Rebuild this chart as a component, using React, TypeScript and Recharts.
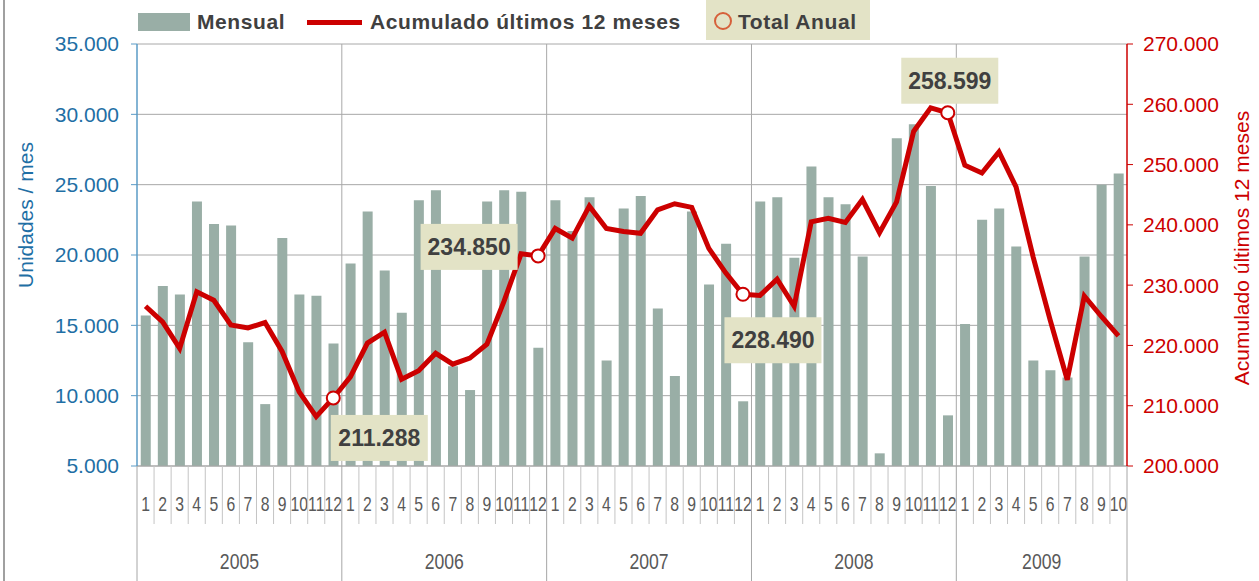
import React from 'react';
import { ComposedChart, Bar, Line, XAxis, YAxis, CartesianGrid, Legend } from 'recharts';

const years = [2005, 2006, 2007, 2008, 2009];
const monthsPerYear = [12, 12, 12, 12, 10];

// unidades por mes
const mensual = [
  15700, 17800, 17200, 23800, 22200, 22100, 13800, 9400, 21200, 17200, 17100, 13700,
  19400, 23100, 18900, 15900, 23900, 24600, 12100, 10400, 23800, 24600, 24500, 13400,
  23900, 21700, 24100, 12500, 23300, 24200, 16200, 11400, 23100, 17900, 20800, 9600,
  23800, 24100, 19800, 26300, 24100, 23600, 19900, 5900, 28300, 29300, 24900, 8600,
  15100, 22500, 23300, 20600, 12500, 11800, 11300, 19900, 25000, 25800,
];

// acumulado ultimos 12 meses
const acumulado = [
  226500, 223900, 219500, 228900, 227500, 223400, 222900, 223800, 219000, 212300, 208200, 211288,
  214800, 220400, 222200, 214400, 215800, 218700, 216900, 217900, 220200, 227300, 235200, 234850,
  239400, 237800, 243100, 239400, 238900, 238600, 242500, 243500, 242900, 236100, 232000, 228490,
  228300, 231000, 226500, 240500, 241100, 240400, 244200, 238700, 243800, 255500, 259400, 258599,
  249900, 248600, 252100, 246300, 234700, 224200, 214300, 228200, 224800, 221600,
];

const totalAnual = [211288, 234850, 228490, 258599];

const leftTicks = [5000, 10000, 15000, 20000, 25000, 30000, 35000];
const rightTicks = [200000, 210000, 220000, 230000, 240000, 250000, 260000, 270000];

// where the box of each annual label sits, relative to its point
const annualLabelOffsets = [
  { dx: 46, dy: 40 },
  { dx: -69, dy: -9 },
  { dx: 30, dy: 46 },
  { dx: 2, dy: -32 },
];

type Row = {
  key: string;
  year: number;
  month: number;
  mensual: number;
  acumulado: number;
  anual: number | null;
  yearIdx: number;
};

const rows: Row[] = [];
let n = 0;
years.forEach((year, yi) => {
  for (let m = 1; m <= monthsPerYear[yi]; m++) {
    rows.push({
      key: `${year}-${m}`,
      year,
      month: m,
      mensual: mensual[n],
      acumulado: acumulado[n],
      anual: m === 12 ? totalAnual[yi] : null,
      yearIdx: yi,
    });
    n++;
  }
});

const W = 1259;
const H = 581;
const LEFT_W = 137;
const RIGHT_W = 132;
const XAXIS_H = 115;
const LEGEND_H = 40;
const PLOT_W = W - LEFT_W - RIGHT_W;

const SANS = "'Liberation Sans', Arial, sans-serif";
const BLUE = '#1f6fa5';
const BLUE_AXIS = '#5a9bc6';
const RED = '#cc0000';
const BAR = '#99aea6';
const GRID = '#a8a8a8';
const TEXT = '#404040';
const AXIS_TEXT = '#595959';
const BEIGE = '#e3e3c6';
const ORANGE = '#d6603a';

const fmt = (v: number) => String(v).replace(/\B(?=(\d{3})+(?!\d))/g, '.');

const MonthTick = (props: any) => {
  const { x, y, payload } = props;
  const i = rows.findIndex((r) => r.key === payload.value);
  if (i < 0) return <g />;
  const row = rows[i];
  const band = PLOT_W / rows.length;
  const left = x - band / 2;
  const yearX = left + (band * monthsPerYear[row.yearIdx]) / 2;
  return (
    <g>
      {/* narrow look of the original axis font */}
      <text
        transform={`translate(${x} ${y + 45}) scale(0.75 1)`}
        textAnchor="middle"
        fontSize={21}
        fill={AXIS_TEXT}
        fontFamily={SANS}
      >
        {row.month}
      </text>
      {row.month === 1 ? (
        <>
          <line x1={left} x2={left} y1={y} y2={y + XAXIS_H} stroke="#a6a6a6" />
          <text
            transform={`translate(${yearX} ${y + 103}) scale(0.8 1)`}
            textAnchor="middle"
            fontSize={22}
            fill={AXIS_TEXT}
            fontFamily={SANS}
          >
            {row.year}
          </text>
        </>
      ) : (
        <line x1={left} x2={left} y1={y} y2={y + 58} stroke="#c4c4c4" />
      )}
      {i === rows.length - 1 && (
        <line x1={x + band / 2} x2={x + band / 2} y1={y} y2={y + XAXIS_H} stroke="#a6a6a6" />
      )}
    </g>
  );
};

const renderAnnualDot = (props: any) => {
  const { cx, cy, index, value } = props;
  if (value == null || cy == null || Number.isNaN(cy)) return <g key={`d${index}`} />;
  return <circle key={`d${index}`} cx={cx} cy={cy} r={6.5} fill="#fff" stroke={RED} strokeWidth={2} />;
};

const renderAnnualLabel = (props: any) => {
  const { x, y, value, index } = props;
  if (value == null || y == null) return null;
  const row = rows[index];
  const off = annualLabelOffsets[row ? row.yearIdx : 0] || { dx: 0, dy: -30 };
  const bw = 97;
  const bh = 46;
  const cx = x + off.dx;
  const cy = y + off.dy;
  return (
    <g>
      <rect x={cx - bw / 2} y={cy - bh / 2} width={bw} height={bh} fill={BEIGE} />
      <text
        x={cx}
        y={cy + 8}
        textAnchor="middle"
        fontSize={23}
        fontWeight="bold"
        fill={TEXT}
        fontFamily={SANS}
      >
        {fmt(value)}
      </text>
    </g>
  );
};

const renderLegend = () => (
  <div
    style={{
      position: 'relative',
      width: W,
      height: LEGEND_H,
      fontFamily: SANS,
      fontWeight: 'bold',
      fontSize: 21,
      color: TEXT,
      letterSpacing: 0.6,
      whiteSpace: 'nowrap',
    }}
  >
    <div style={{ position: 'absolute', left: 138, top: 13, width: 52, height: 18, background: BAR }} />
    <span style={{ position: 'absolute', left: 197, top: 8, lineHeight: '28px' }}>Mensual</span>
    <div style={{ position: 'absolute', left: 307, top: 20, width: 55, height: 5, background: RED }} />
    <span style={{ position: 'absolute', left: 370, top: 8, lineHeight: '28px' }}>
      Acumulado últimos 12 meses
    </span>
    <div style={{ position: 'absolute', left: 706, top: 0, width: 164, height: 40, background: BEIGE }} />
    <div
      style={{
        position: 'absolute',
        left: 714,
        top: 12,
        width: 14,
        height: 14,
        border: `2px solid ${ORANGE}`,
        borderRadius: '50%',
      }}
    />
    <span style={{ position: 'absolute', left: 738, top: 8, lineHeight: '28px' }}>Total Anual</span>
  </div>
);

const leftTitle = (p: any) => {
  const vb = p && p.viewBox ? p.viewBox : { x: 0, y: 44, width: LEFT_W, height: 422 };
  const cx = vb.x + 25;
  const cy = vb.y + vb.height / 2 - 40;
  return (
    <text
      x={cx}
      y={cy}
      transform={`rotate(-90 ${cx} ${cy})`}
      textAnchor="middle"
      dominantBaseline="central"
      fontSize={21}
      fill={BLUE}
      fontFamily={SANS}
    >
      Unidades / mes
    </text>
  );
};

const rightTitle = (p: any) => {
  const vb = p && p.viewBox ? p.viewBox : { x: W - RIGHT_W, y: 44, width: RIGHT_W, height: 422 };
  const cx = vb.x + 114;
  const cy = vb.y + vb.height / 2 - 7;
  return (
    <text
      x={cx}
      y={cy}
      transform={`rotate(-90 ${cx} ${cy})`}
      textAnchor="middle"
      dominantBaseline="central"
      fontSize={21}
      fill={RED}
      fontFamily={SANS}
    >
      Acumulado últimos 12 meses
    </text>
  );
};

// year boundaries for the vertical grid lines
const yearStarts = rows.map((r, i) => (r.month === 1 && i > 0 ? i : -1)).filter((i) => i > 0);

export default function App() {
  return (
    <div style={{ position: 'absolute', left: 0, top: 0, width: W, height: H, background: '#fff' }}>
      <div style={{ position: 'absolute', left: 3, top: 0, width: 2, height: H, background: '#a0a0a0' }} />
      <ComposedChart
        width={W}
        height={H}
        data={rows}
        margin={{ top: 44 - LEGEND_H, right: 0, bottom: 0, left: 0 }}
        barCategoryGap="22%"
        style={{ fontFamily: SANS }}
      >
        <CartesianGrid
          yAxisId="left"
          stroke={GRID}
          verticalCoordinatesGenerator={({ offset }: any) =>
            yearStarts.map((i) => offset.left + (offset.width * i) / rows.length)
          }
        />
        <XAxis
          dataKey="key"
          interval={0}
          height={XAXIS_H}
          tickLine={false}
          tickSize={0}
          tickMargin={0}
          axisLine={{ stroke: '#a6a6a6' }}
          tick={(p: any) => <MonthTick {...p} />}
        />
        <YAxis
          yAxisId="left"
          width={LEFT_W}
          domain={[5000, 35000]}
          ticks={leftTicks}
          tickFormatter={fmt}
          tickSize={6}
          tickMargin={12}
          axisLine={{ stroke: BLUE_AXIS, strokeWidth: 1.5 }}
          tickLine={{ stroke: BLUE_AXIS }}
          tick={{ fill: BLUE, fontSize: 21, fontFamily: SANS }}
          label={leftTitle}
        />
        <YAxis
          yAxisId="right"
          orientation="right"
          width={RIGHT_W}
          domain={[200000, 270000]}
          ticks={rightTicks}
          tickFormatter={fmt}
          tickSize={6}
          tickMargin={10}
          axisLine={{ stroke: RED, strokeWidth: 1.5 }}
          tickLine={{ stroke: RED }}
          tick={{ fill: RED, fontSize: 21, fontFamily: SANS }}
          label={rightTitle}
        />
        <Bar yAxisId="left" dataKey="mensual" fill={BAR} isAnimationActive={false} />
        <Line
          yAxisId="right"
          type="linear"
          dataKey="acumulado"
          stroke={RED}
          strokeWidth={5}
          dot={false}
          activeDot={false}
          isAnimationActive={false}
        />
        <Line
          yAxisId="right"
          type="linear"
          dataKey="anual"
          stroke="none"
          dot={renderAnnualDot}
          activeDot={false}
          label={renderAnnualLabel}
          isAnimationActive={false}
        />
        <Legend
          verticalAlign="top"
          align="left"
          content={renderLegend}
          wrapperStyle={{ left: 0, top: 0, width: W, height: LEGEND_H }}
        />
      </ComposedChart>
    </div>
  );
}
